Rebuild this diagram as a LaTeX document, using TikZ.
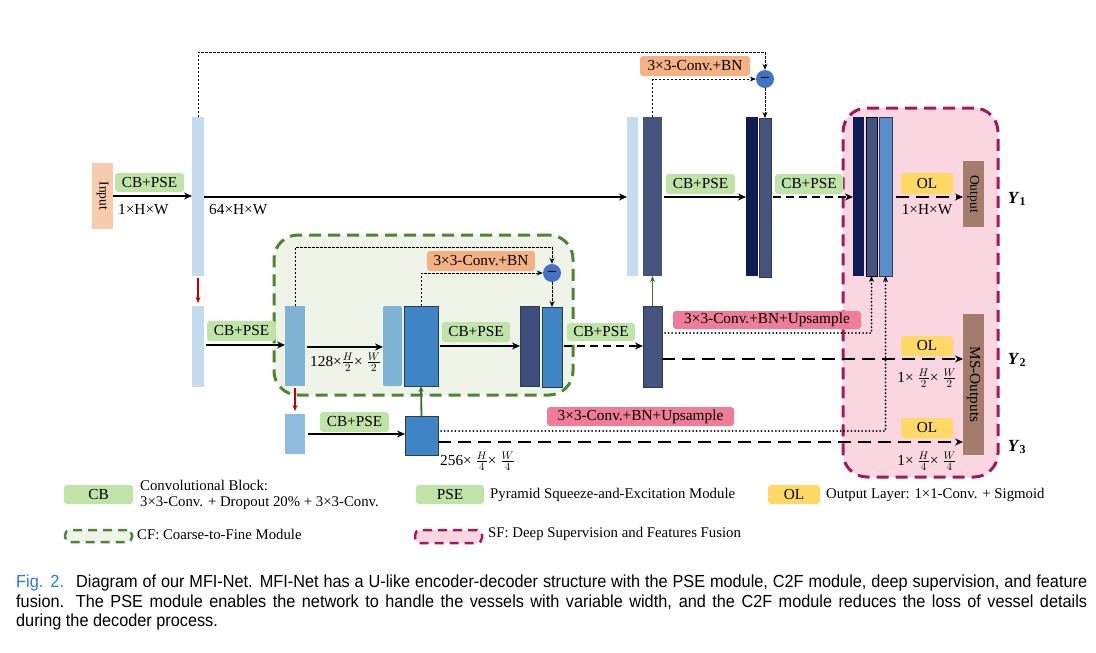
\documentclass[tikz,border=0pt]{standalone}
\usepackage{fontspec}
\setmainfont{Liberation Serif}
\newfontfamily\capfont[FakeStretch=0.93]{Liberation Sans}
\usetikzlibrary{arrows.meta,calc}
\definecolor{lblue}{HTML}{C5DCEE}
\definecolor{mblue}{HTML}{7FB3D6}
\definecolor{sblue}{HTML}{8FBBE0}
\definecolor{bblue}{HTML}{3F84C4}
\definecolor{slate}{HTML}{44547F}
\definecolor{dslate}{HTML}{3D4E7C}
\definecolor{navy}{HTML}{0E1B55}
\definecolor{fblue}{HTML}{5B8FCB}
\definecolor{peach}{HTML}{F8CBAD}
\definecolor{brownb}{HTML}{A47C6C}
\definecolor{cbgreen}{HTML}{C0E3A8}
\definecolor{orng}{HTML}{F4B183}
\definecolor{pinkl}{HTML}{EF7D98}
\definecolor{olyel}{HTML}{FFD966}
\definecolor{cfline}{HTML}{548235}
\definecolor{cffill}{HTML}{EEF5E8}
\definecolor{sfline}{HTML}{A5195C}
\definecolor{sffill}{HTML}{F9D6E0}
\definecolor{minusb}{HTML}{4472C4}
\definecolor{garrow}{HTML}{3D6B28}
\definecolor{rarrow}{HTML}{C00000}
\definecolor{edgeb}{HTML}{2E3B55}
\definecolor{figblue}{HTML}{2A7BD6}
\newcommand\fsz{\fontsize{15.3}{17}\selectfont}
\newcommand\lsz{\fontsize{14.8}{16.5}\selectfont}
\newcommand\blk[6]{\node[blkbase,#6,minimum width={(#4-#2)*1pt},minimum height={(#5-#3)*1pt}] (#1) at ({(#2+#4)/2},{(#3+#5)/2}) {};}
\newcommand\tagbox[7]{\node[tagbase,#6,minimum width={(#4-#2)*1pt},minimum height={(#5-#3)*1pt}] (#1) at ({(#2+#4)/2},{(#3+#5)/2}) {#7};}
\tikzset{
  blkbase/.style={rectangle,inner sep=0pt,outer sep=0pt},
  tagbase/.style={rectangle,rounded corners=3pt,inner sep=0pt,outer sep=0pt,font=\fsz},
  bord/.style={draw=edgeb,line width=0.8pt},
  arr/.style={line width=1.8pt,-{Stealth[length=8pt,width=7pt]}},
  fine/.style={line width=0.9pt,dash pattern=on 2.5pt off 1.5pt,-{Stealth[length=6pt,width=5pt]}},
  dots/.style={line width=2pt,line cap=round,dash pattern=on 0pt off 3.6pt,-{Stealth[length=6pt,width=5pt]}},
  longdash/.style={line width=2.3pt,dash pattern=on 13pt off 7pt,-{Stealth[length=8pt,width=7pt]}},
  medash/.style={line width=2pt,dash pattern=on 8pt off 5pt,-{Stealth[length=8pt,width=7pt]}},
  redarr/.style={rarrow,line width=1.6pt,-{Stealth[length=6pt,width=5pt]}},
  greenarr/.style={garrow,line width=1.8pt,-{Stealth[length=6pt,width=5pt]}},
  cfstyle/.style={draw=cfline,fill=cffill,line width=3pt,dash pattern=on 12pt off 7pt,rounded corners=24pt},
  sfstyle/.style={draw=sfline,fill=sffill,line width=3pt,dash pattern=on 12pt off 7pt,rounded corners=24pt},
  minus/.style={circle,fill=minusb,minimum size=18pt,inner sep=0pt,font=\bfseries\fsz},
  txt/.style={font=\fsz,inner sep=0pt},
  ltxt/.style={font=\lsz,inner sep=0pt},
  captxt/.style={anchor=base west,inner sep=0pt,font=\capfont\fontsize{17.5}{19}\selectfont},
}
\begin{document}
\begin{tikzpicture}[x=1pt,y=-1pt]
\useasboundingbox[fill=white] (0,0) rectangle (1096,653);
% containers
\blk{cf}{274}{235}{573}{395}{cfstyle}
\blk{sf}{843}{108}{998}{477}{sfstyle}
% input
\tagbox{inbox}{92}{163}{113}{229}{fill=peach,rounded corners=0pt}{}
\node[txt,rotate=-90] (intxt) at (inbox) {\fontsize{13.5}{14}\selectfont Input};
% encoder bars
\blk{e1}{192}{117}{204}{276}{fill=lblue}
\blk{e2}{192}{306}{204}{387}{fill=lblue}
\blk{cfA}{285}{306}{305}{386}{fill=mblue}
\blk{e3}{285}{414}{305}{454}{fill=sblue}
\blk{F}{405}{416}{438}{455}{fill=bblue,bord}
\blk{B}{383}{306}{402}{386}{fill=mblue,rounded corners=2pt}
\blk{C}{404}{306}{438}{386}{fill=bblue,bord}
\blk{D}{520}{306}{539}{386}{fill=dslate,bord}
\blk{E}{542}{307}{562}{387}{fill=bblue,bord}
\blk{M}{643}{306}{662}{387}{fill=slate,bord}
\blk{T1}{627}{117}{638}{276}{fill=lblue}
\blk{T2}{643}{117}{662}{276}{fill=slate}
\blk{T3}{746}{117}{758}{276}{fill=navy}
\blk{T4}{759}{118}{771}{277}{fill=slate,bord}
\blk{S1}{853}{117}{864}{276}{fill=navy}
\blk{S2}{866}{117}{877}{276}{fill=slate,draw=black,line width=0.8pt}
\blk{S3}{879}{117}{892}{276}{fill=fblue,bord}
\tagbox{Out}{963}{161}{984}{227}{fill=brownb,rounded corners=0pt}{}
\node[txt,rotate=-90] (outtxt) at (Out) {\fontsize{13.5}{14}\selectfont Output};
\tagbox{MS}{963}{314}{984}{455}{fill=brownb,rounded corners=0pt}{}
\node[txt,rotate=-90] (mstxt) at (MS) {MS-Outputs};
% minus circles
\node[minus] (c1) at (765,79) {--};
\node[minus] (c2) at (552,273) {--};
% labels
\tagbox{g1}{115}{173}{184}{192}{fill=cbgreen}{CB+PSE}
\tagbox{g2}{666}{174}{735}{194}{fill=cbgreen}{CB+PSE}
\tagbox{g3}{775}{174}{843}{194}{fill=cbgreen}{CB+PSE}
\tagbox{g4}{207}{321}{276}{341}{fill=cbgreen}{CB+PSE}
\tagbox{g5}{442}{322}{510}{342}{fill=cbgreen}{CB+PSE}
\tagbox{g6}{567}{323}{635}{341}{fill=cbgreen}{CB+PSE}
\tagbox{g7}{320}{412}{389}{432}{fill=cbgreen}{CB+PSE}
\tagbox{o1}{640}{56}{750}{76}{fill=orng}{3{\texttimes}3-Conv.+BN}
\tagbox{o2}{427}{251}{535}{271}{fill=orng}{3{\texttimes}3-Conv.+BN}
\tagbox{p1}{673}{311}{861}{329}{fill=pinkl}{3{\texttimes}3-Conv.+BN+Upsample}
\tagbox{p2}{547}{407}{734}{426}{fill=pinkl}{3{\texttimes}3-Conv.+BN+Upsample}
\tagbox{ol1}{901}{173}{953}{194}{fill=olyel}{OL}
\tagbox{ol2}{901}{336}{953}{356}{fill=olyel}{OL}
\tagbox{ol3}{901}{418}{953}{438}{fill=olyel}{OL}
% dimension texts
\node[txt,anchor=west] (d1) at (118,210) {1{\texttimes}H{\texttimes}W};
\node[txt,anchor=west] (d2) at (209,210) {64{\texttimes}H{\texttimes}W};
\node[txt,anchor=west] (d3) at (310,362) {128{\texttimes}$\frac{H}{2}${\texttimes} $\frac{W}{2}$};
\node[txt,anchor=west] (d4) at (440,461) {256{\texttimes} $\frac{H}{4}${\texttimes} $\frac{W}{4}$};
\node[txt] (d5) at (927,210) {1{\texttimes}H{\texttimes}W};
\node[txt] (d6) at (927,378) {1{\texttimes} $\frac{H}{2}${\texttimes} $\frac{W}{2}$};
\node[txt] (d7) at (927,461) {1{\texttimes} $\frac{H}{4}${\texttimes} $\frac{W}{4}$};
\node[txt] (y1) at (1017,199) {\fontsize{17}{18}\selectfont\textbf{\textit{Y}}\textsubscript{\textbf{1}}};
\node[txt] (y2) at (1017,360) {\fontsize{17}{18}\selectfont\textbf{\textit{Y}}\textsubscript{\textbf{2}}};
\node[txt] (y3) at (1017,447) {\fontsize{17}{18}\selectfont\textbf{\textit{Y}}\textsubscript{\textbf{3}}};
% connectors: main paths
\draw[arr] (inbox.east |- 0,196) -- (e1.west |- 0,196);
\draw[arr] (e1.east |- 0,197) -- (T1.west |- 0,197);
\draw[arr] (T2.east |- 0,197) ++(2,0) -- (T3.west |- 0,197);
\draw[medash] (T4.east |- 0,197) ++(2,0) -- (S1.west |- 0,197);
\draw[longdash] (S3.east |- 0,197) ++(4,0) -- (Out.west |- 0,197);
\draw[arr] (e2.east |- 0,345) ++(2,0) -- (cfA.west |- 0,345);
\draw[arr] (cfA.east |- 0,347) ++(2,0) -- (B.west |- 0,347);
\draw[arr] (C.east |- 0,346) ++(2,0) -- (D.west |- 0,346);
\draw[medash] (E.east |- 0,346) ++(2,0) -- (M.west |- 0,346);
\draw[arr] (e3.east |- 0,434) ++(3,0) -- (F.west |- 0,434);
% skip / subtraction paths
\draw[fine] (e1.north) |- (c1.north |- 0,52) -- (c1.north);
\draw[fine] (T2.north) |- (c1.west);
\draw[fine] (c1.south) -- (T4.north);
\draw[fine] (cfA.north) |- (c2.north |- 0,247) -- (c2.north);
\draw[fine] (C.north) |- (c2.west);
\draw[fine] (c2.south) -- (E.north);
% down-sampling (red) and up (green)
\draw[redarr] (e1.south) ++(0,2) -- ($(e2.north)+(0,-3)$);
\draw[redarr] (cfA.south) ++(0,2) -- ($(e3.north)+(0,-3)$);
\draw[greenarr] (M.north) -- (T2.south);
\draw[greenarr] (F.north) -- (C.south);
% deep supervision
\draw[dots] (M.east |- 0,333) ++(3,0) -| (S2.south);
\draw[dots] (F.east |- 0,431) ++(3,0) -| (S3.south);
\draw[longdash] (M.east |- 0,359) -- (MS.west |- 0,359);
\draw[longdash] (F.east |- 0,442) -- (MS.west |- 0,442);
% legend
\tagbox{lcb}{64}{485}{133}{504}{fill=cbgreen}{CB}
\node[ltxt,anchor=west,align=left] (lcbt) at (140,495) {Convolutional Block:\\3{\texttimes}3-Conv. + Dropout 20\% + 3{\texttimes}3-Conv.};
\tagbox{lpse}{416}{485}{484}{504}{fill=cbgreen}{PSE}
\node[ltxt,anchor=west] (lpset) at (490,495) {Pyramid Squeeze-and-Excitation Module};
\tagbox{lol}{768}{485}{820}{504}{fill=olyel}{OL}
\node[ltxt,anchor=west] (lolt) at (826,495) {Output Layer: 1{\texttimes}1-Conv. + Sigmoid};
\blk{lcf}{65}{530}{132}{542}{draw=cfline,fill=cffill,line width=2.5pt,dash pattern=on 9pt off 6pt,rounded corners=5pt}
\node[ltxt,anchor=west] (lcft) at (137,534) {CF: Coarse-to-Fine Module};
\blk{lsf}{415}{530}{482}{543}{draw=sfline,fill=sffill,line width=2.5pt,dash pattern=on 9pt off 6pt,rounded corners=5pt}
\node[ltxt,anchor=west] (lsft) at (488,534) {SF: Deep Supervision and Features Fusion};
% caption
\node[captxt] (cap1) at (16,587) {\makebox[1071pt][s]{\textcolor{figblue}{Fig. 2.}\hspace{5pt} Diagram of our MFI-Net. MFI-Net has a U-like encoder-decoder structure with the PSE module, C2F module, deep supervision, and feature}};
\node[captxt] (cap2) at (16,607) {\makebox[1071pt][s]{fusion. The PSE module enables the network to handle the vessels with variable width, and the C2F module reduces the loss of vessel details}};
\node[captxt] (cap3) at (16,626) {during the decoder process.};
\end{tikzpicture}
\end{document}
